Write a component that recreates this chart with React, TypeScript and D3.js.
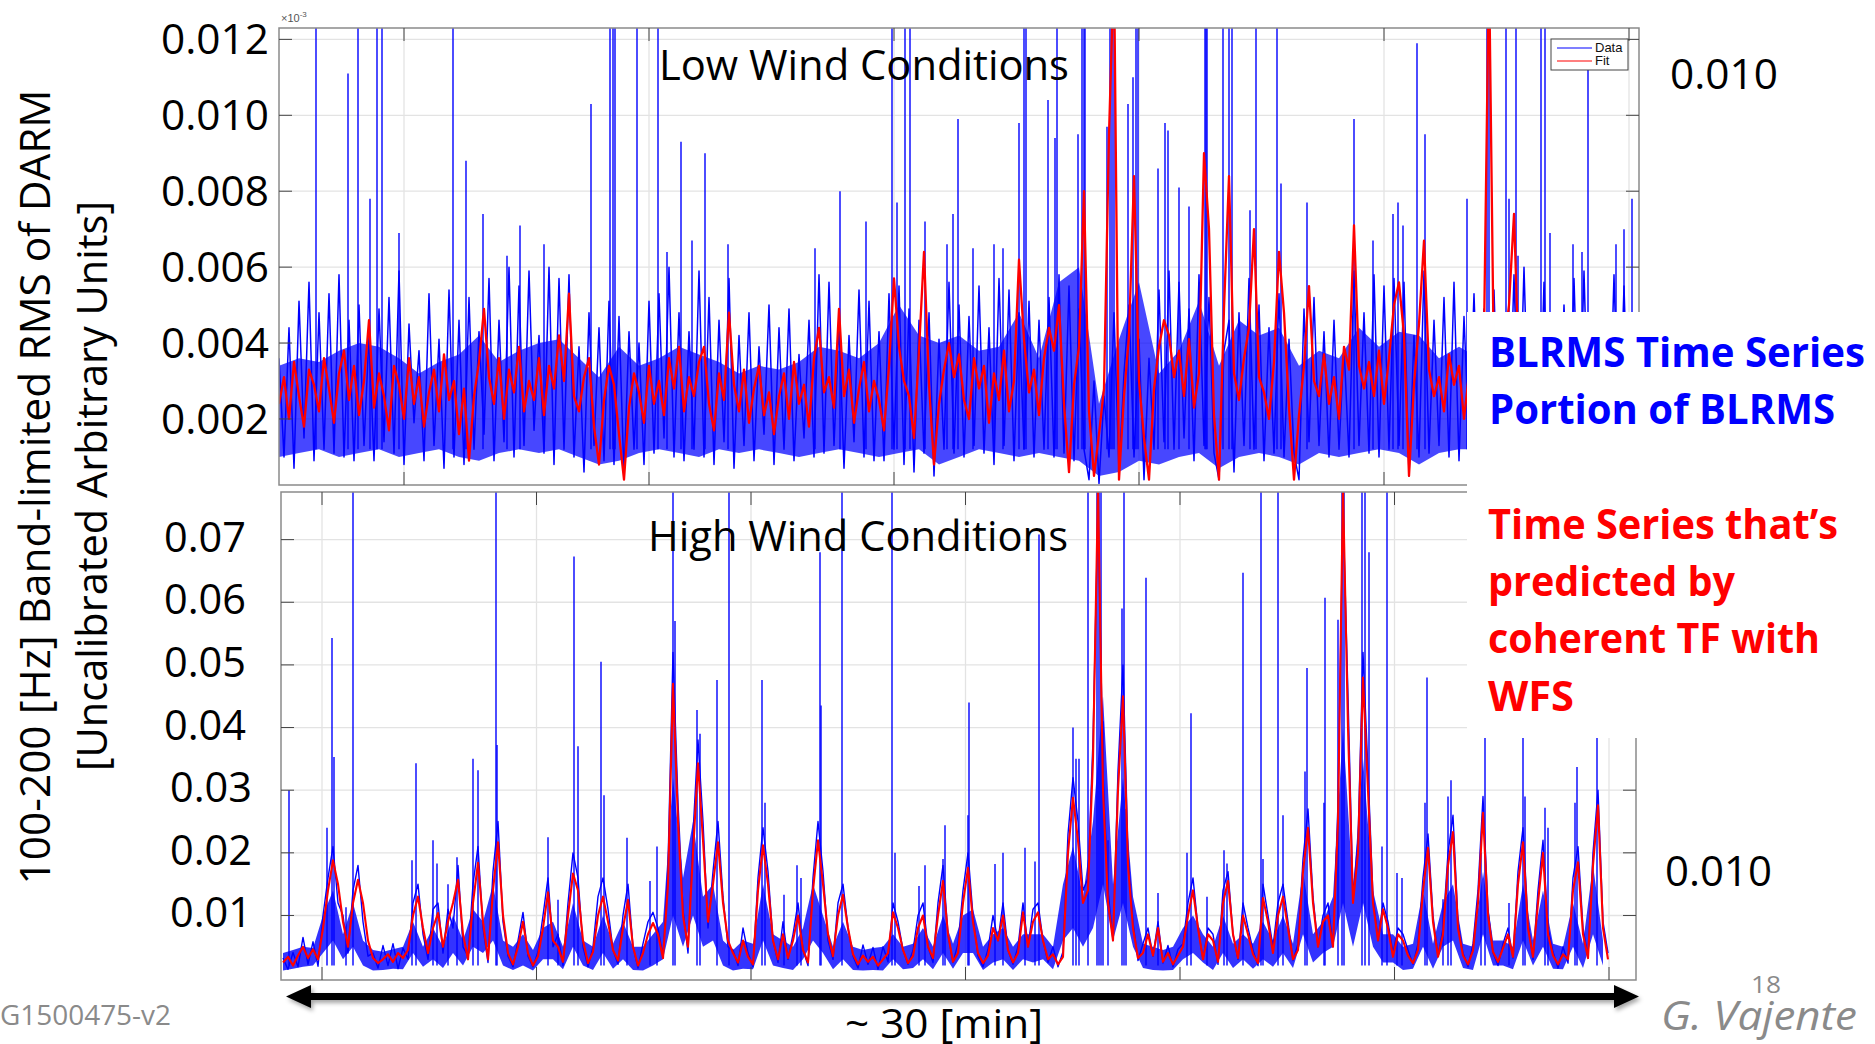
import React from 'react';
import * as d3 from 'd3';

// ---- data (values in units of 1e-3) ----
// top panel: noisy BLRMS samples (every sample index), dense core band (every 4th index), spikes
const topBlue = [
  3.6, 1.0, 4.4, 0.7, 5.1, 1.5, 5.6, 0.9, 4.8, 1.2,
  5.3, 1.1, 5.8, 1.0, 4.6, 0.9, 5.0, 1.3, 4.2, 0.9,
  4.9, 1.4, 5.2, 1.1, 5.9, 0.8, 4.5, 1.9, 3.8, 0.9,
  5.3, 1.3, 4.1, 0.7, 5.4, 1.0, 4.6, 0.8, 5.2, 1.2,
  4.3, 1.6, 5.7, 0.9, 4.6, 1.4, 6.0, 1.0, 5.5, 1.3,
  5.9, 1.7, 4.2, 1.1, 6.0, 0.8, 5.7, 1.2, 5.8, 1.0,
  3.9, 0.6, 4.8, 1.3, 4.4, 0.9, 5.1, 0.8, 4.7, 0.5,
  4.3, 1.2, 4.0, 0.8, 5.1, 1.1, 5.3, 1.5, 6.0, 1.0,
  4.8, 0.9, 4.3, 1.2, 5.9, 1.0, 5.2, 0.8, 4.6, 1.4,
  5.7, 0.7, 4.2, 1.3, 4.8, 0.9, 3.9, 1.6, 5.0, 0.8,
  4.4, 1.2, 4.9, 0.9, 3.7, 1.5, 4.6, 1.0, 5.8, 1.1,
  5.6, 1.3, 4.5, 0.7, 4.2, 1.4, 5.4, 1.0, 5.1, 0.9,
  4.3, 0.9, 5.3, 1.2, 5.5, 0.8, 4.9, 0.6, 4.6, 1.1,
  4.8, 0.5, 4.1, 1.2, 5.6, 1.1, 5.0, 1.0, 4.7, 1.3,
  5.5, 1.1, 4.4, 0.8, 5.7, 1.3, 5.4, 0.9, 4.8, 1.2,
  5.1, 1.0, 4.6, 1.2, 5.2, 1.0, 5.8, 1.1, 5.5, 0.9,
  4.9, 1.2, 0.4, 3.0, 0.3, 2.6, 1.0, 4.8, 0.6, 3.2,
  5.0, 1.0, 4.1, 0.4, 3.6, 1.2, 5.4, 1.4, 5.9, 1.2,
  5.6, 1.5, 4.9, 0.9, 5.8, 1.3, 5.2, 1.1, 0.4, 3.8,
  4.6, 0.6, 4.8, 1.3, 5.7, 1.2, 5.0, 0.9, 4.4, 1.1,
  5.3, 1.0, 4.1, 1.1, 0.4, 4.9, 1.4, 5.2, 1.3, 4.3,
  1.0, 4.6, 1.2, 3.9, 1.0, 5.9, 1.3, 4.8, 1.1, 5.8,
  1.0, 5.5, 1.2, 5.7, 1.3, 5.6, 0.5, 4.2, 1.0, 5.9,
  1.1, 4.6, 1.3, 5.2, 1.0, 5.6, 0.9, 4.7, 1.4, 5.3,
  1.2, 4.9, 1.6, 5.4, 1.0, 4.5, 1.3, 5.8, 1.1, 6.0,
  1.3, 4.4, 0.9, 5.6, 1.2, 4.8, 0.8, 5.0, 1.2, 5.7,
  1.1, 5.9, 1.0, 4.3, 1.4, 4.6, 1.0, 5.8, 1.2, 5.5,
  1.0,
];

const topBandHi = [
  3.4, 3.6, 3.5, 3.8, 4.0, 3.9, 3.6, 3.2, 3.5, 3.7,
  4.2, 3.5, 3.8, 4.0, 4.1, 3.6, 3.1, 3.9, 3.4, 3.6,
  3.9, 3.7, 3.5, 3.2, 3.4, 3.3, 3.5, 3.9, 3.8, 3.6,
  4.0, 5.0, 4.2, 4.0, 4.2, 3.8, 3.9, 4.8, 3.6, 5.6,
  6.0, 2.4, 4.1, 5.6, 3.2, 3.8, 5.1, 3.4, 4.6, 4.2,
  4.4, 3.4, 3.8, 3.6, 4.4, 3.9, 4.3, 4.2, 3.6, 3.9,
  3.6, 3.8, 3.7, 3.6, 3.9, 3.7, 3.6, 3.8, 3.6,
];
const topBandLo = [
  1.0, 1.1, 1.2, 1.0, 1.1, 1.2, 1.0, 1.1, 1.2, 1.0,
  0.9, 1.1, 1.2, 1.1, 1.2, 1.0, 0.8, 0.9, 1.1, 1.2,
  1.1, 1.0, 1.2, 1.1, 1.2, 1.1, 1.0, 1.1, 1.2, 1.1,
  1.0, 1.1, 1.2, 0.8, 1.0, 1.2, 1.1, 1.0, 1.1, 1.0,
  0.9, 0.5, 0.6, 0.9, 0.8, 1.0, 1.1, 0.7, 1.0, 1.1,
  1.0, 0.8, 1.1, 1.0, 1.1, 1.2, 1.1, 0.8, 1.1, 1.2,
  1.2, 1.1, 1.2, 1.0, 1.1, 1.2, 1.1, 1.0, 1.1,
];

const topSpikeIdx = [
  7.4, 13.8, 15.8, 18.2, 19.6, 20.6, 24, 34.8, 37.4, 40.8,
  45.6, 48.2, 53, 62.4, 66.2, 66.8, 67.2, 71.6, 75.8, 77.6,
  80.4, 82.6, 85.2, 89.8, 107.2, 112.2, 117.4, 122.6, 123.6, 125.2,
  126.2, 129.2, 133.6, 134.8, 135.8, 138.8, 143, 144.8, 148, 149,
  149.4, 153.8, 155.2, 155.6, 159.8, 160.6, 161, 161.2, 165.6, 166.2,
  166.6, 167, 169.8, 170.8, 171.4, 171.8, 175.8, 177.2, 177.8, 180,
  182, 185.2, 185.4, 185.6, 188.8, 190, 190.6, 194.2, 195.4, 199.6,
  200.4, 205.6, 215, 218.8, 222.8, 223.8, 224.8, 227.6, 229.2, 237.6,
  241.6, 242, 245.4, 246, 247.4, 247.8, 252.4, 253.2, 254.2, 258.8,
  260.6, 261.8, 267.4, 269, 270.6,
];
const topSpikeVal = [
  14, 11.1, 14, 7.8, 14, 14, 6.9, 14, 8.8, 7.4,
  6.3, 7.1, 6.6, 10.3, 14, 14, 14, 14, 14, 6.4,
  9.3, 6.7, 9.0, 6.6, 6.5, 8.0, 7.2, 14, 7.7, 14,
  14, 7.2, 6.6, 7.4, 9.9, 6.5, 6.6, 6.5, 9.8, 14,
  14, 10.4, 9.4, 14, 9.5, 14, 14, 14, 9.7, 14,
  14, 14, 10.3, 11.0, 14, 14, 8.6, 9.8, 9.6, 8.1,
  7.6, 14, 14, 14, 14, 14, 14, 7.5, 14, 14,
  8.2, 7.7, 9.9, 6.7, 7.4, 7.7, 7.1, 11.9, 9.5, 7.8,
  14, 14, 14, 7.8, 14, 6.3, 14, 14, 6.9, 6.6,
  6.4, 12.0, 6.6, 7.0, 7.8,
];

const topRed = [
  2.4, 3.1, 2.0, 3.5, 2.6, 1.8, 3.3, 2.9, 2.2, 3.6,
  2.8, 1.9, 3.2, 3.8, 2.5, 3.4, 2.1, 3.0, 4.6, 2.3,
  3.2, 2.6, 1.7, 3.4, 2.9, 2.0, 3.6, 2.4, 3.1, 1.8,
  2.7, 3.3, 2.2, 3.7, 2.5, 3.0, 1.6, 2.8, 0.9, 2.6,
  3.5, 4.9, 3.1, 2.4, 3.6, 2.0, 3.3, 2.7, 3.9, 2.2,
  3.0, 2.5, 3.6, 2.1, 3.4, 2.8, 4.2, 3.0, 5.3, 2.6,
  2.2, 3.1, 3.6, 1.8, 0.8, 2.5, 3.4, 2.9, 1.6, 0.4,
  2.3, 3.2, 2.7, 1.9, 3.4, 2.4, 3.0, 2.1, 3.6, 2.8,
  3.9, 2.2, 3.1, 2.6, 3.5, 3.9, 2.4, 1.7, 3.2, 2.5,
  4.8, 2.9, 2.2, 3.3, 1.9, 2.8, 3.4, 2.1, 2.7, 1.6,
  2.6, 3.2, 2.0, 3.5, 2.4, 2.9, 1.8, 3.6, 4.4, 2.7,
  3.1, 2.3, 4.9, 2.6, 3.3, 1.9, 2.8, 3.5, 2.2, 3.0,
  2.5, 1.7, 3.4, 5.7, 3.9, 3.0, 2.6, 1.5, 3.8, 6.4,
  2.9, 0.8, 2.4, 3.3, 4.0, 3.1, 3.7, 2.5, 2.0, 3.6,
  2.8, 3.4, 1.9, 3.2, 2.5, 3.8, 2.2, 3.0, 6.2, 4.1,
  2.7, 3.3, 2.1, 3.6, 4.4, 3.8, 5.0, 2.4, 0.6, 2.9,
  3.9, 8.0, 2.2, 0.5, 1.6, 2.8, 9.5, 14, 0.4, 2.6,
  4.2, 8.4, 3.0, 1.5, 0.4, 2.8, 3.9, 4.6, 4.2, 3.1,
  3.8, 2.6, 4.1, 2.3, 3.2, 9.0, 7.0, 2.1, 0.4, 4.9,
  8.4, 3.2, 2.5, 3.6, 4.4, 7.0, 3.1, 2.7, 2.0, 3.5,
  6.4, 4.8, 2.3, 0.4, 2.1, 3.4, 5.5, 3.0, 2.6, 3.7,
  2.4, 3.1, 2.0, 3.9, 3.3, 7.1, 3.4, 2.8, 3.5, 2.6,
  3.8, 2.4, 3.6, 5.0, 5.6, 4.2, 0.5, 2.9, 4.5, 6.7,
  3.3, 2.6, 3.1, 2.2, 3.7, 2.9, 3.4, 2.0, 3.2, 2.7,
  3.0, 4.2, 14, 3.1, 2.8, 3.9, 5.0, 7.4, 3.2, 2.5,
  3.1, 2.3, 3.5, 4.0, 3.3, 2.4, 3.0, 2.6, 3.2, 3.7,
  2.5, 3.3, 3.9, 2.8, 3.1, 2.3, 3.4, 2.9, 2.6, 3.1,
  2.8,
];

// bottom panel
const botBlue = [
  3.2, 1.4, 4.1, 1.8, 6.5, 2.2, 5.8, 1.9, 10, 16,
  21, 12, 10, 4.0, 14, 18, 9, 3.5, 4.0, 1.6,
  5.2, 2.0, 5.5, 1.5, 4.8, 3.0, 12, 15, 7, 3.0,
  11, 12, 4, 11, 8, 18, 5, 3.5, 15, 21,
  8, 2.5, 17, 25, 9, 3.5, 1.8, 6, 10.5, 3.5,
  1.8, 4.2, 10, 16, 5, 7, 2.0, 12, 20, 16,
  5, 1.8, 5.0, 13, 16, 11, 4.5, 2.2, 10, 15,
  5, 1.6, 5.5, 9, 10.5, 8, 3.5, 18, 52, 28,
  11, 4, 23, 38, 25, 8, 17, 25, 13, 5,
  4.5, 2.0, 8, 4.0, 1.8, 16, 24, 17, 6, 2.5,
  9, 3.0, 7, 12, 4.5, 2.0, 16, 25, 17, 6,
  3.0, 12, 15, 8, 3.5, 1.6, 5.3, 2.2, 4.9, 1.4,
  5.0, 2.6, 12, 9, 4.5, 2.2, 4.4, 10, 12, 5,
  2.5, 12, 18, 7, 2.5, 5.5, 14, 20, 10, 3.5,
  1.8, 4.6, 10, 6, 12, 4.5, 2.2, 5.0, 12, 5,
  11, 12, 6, 2.5, 5.0, 1.8, 4.2, 23, 32, 25,
  14, 16, 38, 75, 33, 14, 6, 33, 50, 20,
  9, 2.8, 5.5, 8, 3.5, 9, 2.4, 5.2, 1.8, 4.6,
  5.5, 12, 16, 8, 3.0, 8, 7, 2.2, 14, 17,
  7, 3.0, 12, 8, 4.5, 2.0, 15, 10, 5.0, 12,
  15, 9, 2.8, 5.5, 19, 27, 13, 5, 10, 12,
  5, 28, 75, 45, 13, 22, 52, 33, 13, 6,
  12, 9, 4.0, 8, 7, 4.5, 2.2, 5.5, 16, 23,
  10, 3.5, 8, 20, 26, 9, 4.0, 1.8, 5.5, 14,
  29, 11, 4.0, 2.0, 5.5, 8, 3.2, 17, 24, 9,
  3.0, 14, 22, 8, 4.2, 1.6, 5.0, 2.4, 16, 21,
  8, 3.5, 20, 30, 9, 4,
];

const botBandHi = [
  4.0, 4.5, 5.0, 4.8, 10, 14, 7, 12, 6, 4.5,
  4.2, 4.6, 5.0, 9, 5, 8, 5, 10, 6, 11,
  9, 15, 6, 5.0, 7, 4.5, 8, 9, 5.0, 12,
  6, 5.0, 10, 5.5, 9, 5.0, 5.0, 7, 9, 32,
  16, 25, 13, 15, 6, 4.5, 6, 5.5, 15, 7,
  6, 5.0, 8, 15, 10, 5.0, 9, 5.0, 4.5, 4.8,
  5.0, 7, 5.0, 5.5, 8, 5.0, 10, 5.5, 10, 11,
  5.0, 7, 8, 5.0, 7, 7, 7, 5.0, 15, 21,
  13, 25, 45, 15, 32, 13, 5.5, 5.0, 4.5, 5.0,
  8, 10, 7, 5.0, 10, 5.5, 7, 5.5, 9, 6,
  10, 5.5, 17, 7, 9, 13, 40, 14, 35, 14,
  7, 7, 5.0, 5.5, 14, 5.5, 12, 15, 5.5, 5.0,
  17, 6, 6, 5.0, 15, 6, 14, 5.5, 5.0, 12,
  5.5, 18, 6,
];
const botBandLo = [
  1.2, 1.5, 1.8, 2.0, 4, 6, 3, 5, 2, 1.2,
  1.3, 1.5, 1.4, 4, 1.8, 3, 1.6, 4, 2, 5,
  4, 6, 2, 1.3, 2, 1.2, 3, 3, 1.4, 5,
  2, 1.3, 4, 1.5, 3, 1.3, 1.2, 2, 3, 10,
  5, 10, 5, 6, 2, 1.2, 1.5, 1.4, 6, 2,
  1.6, 1.3, 3, 6, 4, 1.4, 3, 1.3, 1.2, 1.3,
  1.2, 3, 1.4, 1.6, 3, 1.4, 4, 1.5, 4, 4,
  1.3, 2.5, 3, 1.3, 3, 2.5, 3, 1.4, 6, 8,
  5, 8, 15, 6, 12, 5, 1.6, 1.3, 1.2, 1.3,
  3, 4, 2.5, 1.3, 4, 1.6, 3, 1.5, 3, 1.8,
  4, 1.6, 7, 2.5, 4, 5, 12, 5, 12, 5,
  2.5, 2.5, 1.3, 1.5, 5, 1.5, 5, 6, 1.6, 1.3,
  7, 2, 2, 1.4, 6, 2, 5, 1.5, 1.4, 5,
  1.6, 7, 2,
];

const botSpikeIdx = [
  1.2, 8.8, 9.8, 10.2, 12.6, 14, 25.8, 26.6, 30, 30.8,
  33, 34.8, 38, 39, 42.6, 42.8, 53, 55, 58.2, 59,
  63.6, 64.2, 68.8, 73.4, 74.8, 78, 78.4, 82.8, 83.4, 86.8,
  89.2, 95.8, 96.4, 100.2, 102.8, 103.6, 107.4, 107.6, 111.8, 121.8,
  122.4, 127.2, 128.4, 132, 132.4, 137, 137.2, 142.4, 144, 148.4,
  150.4, 151.2, 158, 158.6, 159.2, 161, 162.8, 163.2, 163.6, 164,
  165, 167.8, 168.2, 168.6, 172.6, 175, 180.8, 181.6, 184.8, 188.2,
  188.8, 192, 195.6, 196, 199, 200, 204.4, 204.8, 208.2, 208.4,
  211, 211.8, 212.2, 215.8, 216.4, 217.2, 219.8, 220.8, 222.8, 223.8,
  228.4, 228.8, 232, 233, 233.6, 239.6, 240.4, 245.2, 248, 248.4,
  252.4, 253, 258.4, 258.8, 262.8,
];
const botSpikeVal = [
  30, 24, 54.3, 35.3, 11.3, 80, 18.8, 34.3, 22, 18.3,
  15, 19.3, 35, 33.2, 80, 37.2, 22.5, 12.5, 67.3, 37,
  50.5, 29.2, 22.4, 15.5, 21, 80, 57, 42.8, 39, 47.6,
  80, 47.6, 28, 13.3, 18, 16, 68, 43.5, 80, 80,
  20, 14.7, 18, 19, 24.4, 26, 44, 18.2, 20, 20.8,
  18.6, 70.8, 40, 35, 35, 80, 80, 80, 80, 41,
  22, 59, 80, 27, 63.9, 13.6, 20, 42.3, 13, 20.4,
  18.3, 64.7, 80, 19, 80, 26, 33, 49.5, 28, 60.7,
  57.2, 80, 80, 80, 80, 68, 21, 80, 16.8, 16,
  28, 48, 12.6, 29, 31.6, 20, 45, 12, 45, 29,
  27.2, 24, 28, 33.7, 45,
];

const botRed = [
  2.5, 3.4, 2.0, 3.6, 5.0, 3.2, 4.6, 3.0, 8, 14,
  18.8, 15, 9, 5, 12, 15.7, 12, 6, 3.2, 2.4,
  3.0, 3.8, 2.6, 4.0, 3.2, 4.5, 10, 13, 8, 4.0,
  8, 10.4, 5, 9, 12, 15.7, 7, 3, 12, 18.4,
  9, 3, 14, 21.7, 10, 4, 2.2, 5, 9, 4,
  2.0, 3.5, 8, 13.7, 6, 5, 2.6, 10, 16.7, 14,
  6, 2.4, 4.2, 10, 13, 9, 4.5, 2.8, 8, 12.5,
  5, 2.0, 4.0, 7, 8.8, 7, 3.2, 15, 47, 25,
  10, 5, 20, 34.3, 22, 9, 15, 21.7, 12, 6,
  4, 2.5, 6, 3.4, 2.2, 14, 21.2, 15, 6, 3.0,
  7, 3.2, 6, 10, 4.5, 2.5, 14, 22, 15, 7,
  3.5, 10, 13.3, 8, 3.8, 2.2, 3.6, 2.6, 3.4, 2.0,
  3.0, 4.0, 10.5, 8, 4.5, 2.4, 3.5, 8, 10, 5,
  3.2, 10, 15.5, 7, 2.6, 4.0, 12, 17.6, 9, 4,
  2.4, 3.6, 8, 6, 10, 4.5, 2.5, 4.0, 10.5, 5,
  9, 10.5, 6, 3.0, 3.8, 2.2, 3.4, 20, 28.8, 22,
  12, 14, 35, 78, 30, 12, 6, 30, 45, 18,
  8, 3.2, 4.0, 7, 3.6, 8, 2.6, 4.0, 2.2, 3.6,
  5, 10, 14, 8, 3.0, 7, 6, 2.6, 12, 15.5,
  7, 3.2, 10, 7, 3.8, 2.4, 12.8, 9, 4.0, 10,
  13, 8, 3.0, 4.5, 17, 24, 12, 5, 9, 10,
  5, 25, 78, 40, 12, 20, 48, 30, 12, 6,
  11, 8, 3.4, 7, 6, 3.6, 2.4, 4.5, 14, 20.8,
  9, 3.4, 7, 18, 23.3, 8, 3.6, 2.2, 4.4, 12,
  26.4, 10, 4.2, 2.6, 4.8, 7, 3.4, 15, 21.7, 8,
  3.4, 12, 20, 7, 3.6, 2.2, 3.8, 3.0, 14, 18.5,
  7, 3.2, 18, 27.6, 8, 3,
];

const topYTicks = [2, 4, 6, 8, 10, 12];
const topYLabels = ['0.002', '0.004', '0.006', '0.008', '0.010', '0.012'];
const botYTicks = [10, 20, 30, 40, 50, 60, 70];
const botYLabels = ['0.01', '0.02', '0.03', '0.04', '0.05', '0.06', '0.07'];
const topXGrid = [25, 74, 123, 172, 221, 270];
const botXGrid = [7.8, 50.7, 93.6, 136.5, 179.4, 222.3, 265.2];
const threshold = 10;
const legendItems = ['Data', 'Fit'];

const SLIDE = "'Open Sans', 'Noto Sans', sans-serif";
const MAT = "'Liberation Sans', Arial, sans-serif";

export default function App() {
  const xTop = d3.scaleLinear().domain([0, 272]).range([279, 1639]);
  const yTop = d3.scaleLinear().domain([0.26, 12.3]).range([485, 28]);
  const xBot = d3.scaleLinear().domain([-0.4, 270.6]).range([281, 1636]);
  const yBot = d3.scaleLinear().domain([-0.3, 77.6]).range([980, 492]);

  const lineTop = d3.line<number>().x((_, i) => xTop(i)).y((d) => yTop(d));
  const lineBot = d3.line<number>().x((_, i) => xBot(i)).y((d) => yBot(d));
  const bandTop = d3.area<number>().x((_, k) => xTop(k * 4)).y0((_, k) => yTop(topBandLo[k])).y1((d) => yTop(d));
  const bandBot = d3.area<number>().x((_, k) => xBot(k * 2)).y0((_, k) => yBot(botBandLo[k])).y1((d) => yBot(d));

  const tx0 = 279, tx1 = 1639, ty0 = 28, ty1 = 485;
  const bx0 = 281, bx1 = 1636, by0 = 492, by1 = 980;
  const gridC = '#e3e3e3';
  const boxC = '#8a8a8a';
  const tickC = '#444';
  const BLUE = '#0000ff';
  const RED = '#ff0000';

  return (
    <svg width={1875} height={1044} style={{ position: 'absolute', left: 0, top: 0, background: '#fff' }}>
      <defs>
        <clipPath id="clipTop"><rect x={tx0} y={ty0} width={tx1 - tx0} height={ty1 - ty0} /></clipPath>
        <clipPath id="clipBot"><rect x={bx0} y={by0} width={bx1 - bx0} height={by1 - by0} /></clipPath>
        <filter id="shadow" x="-5%" y="-50%" width="110%" height="300%">
          <feDropShadow dx="2" dy="3" stdDeviation="2" floodColor="#000" floodOpacity="0.35" />
        </filter>
      </defs>
      <rect x={0} y={0} width={1875} height={1044} fill="#fff" />

      {/* ---------- top panel ---------- */}
      <g>
        {topYTicks.map((v) => (
          <line key={'tg' + v} x1={tx0} x2={tx1} y1={yTop(v)} y2={yTop(v)} stroke={gridC} strokeWidth={1.3} />
        ))}
        {topXGrid.map((v) => (
          <line key={'txg' + v} x1={xTop(v)} x2={xTop(v)} y1={ty0} y2={ty1} stroke={gridC} strokeWidth={1.3} />
        ))}
        <g clipPath="url(#clipTop)">
          <path d={bandTop(topBandHi) || ''} fill={BLUE} fillOpacity={0.72} stroke="none" />
          <path d={lineTop(topBlue) || ''} fill="none" stroke={BLUE} strokeWidth={1.5} strokeLinejoin="round" />
          {topSpikeIdx.map((s, i) => (
            <line key={'ts' + i} x1={xTop(s)} x2={xTop(s)} y1={yTop(1.2)} y2={yTop(topSpikeVal[i])} stroke={BLUE} strokeWidth={1.4} />
          ))}
          <path d={lineTop(topRed) || ''} fill="none" stroke={RED} strokeWidth={2.3} strokeLinejoin="round" />
        </g>
        <rect x={tx0} y={ty0} width={tx1 - tx0} height={ty1 - ty0} fill="none" stroke={boxC} strokeWidth={1.5} />
        {topYTicks.map((v) => (
          <g key={'tt' + v}>
            <line x1={tx0} x2={tx0 + 13} y1={yTop(v)} y2={yTop(v)} stroke={tickC} strokeWidth={1} />
            <line x1={tx1 - 13} x2={tx1} y1={yTop(v)} y2={yTop(v)} stroke={tickC} strokeWidth={1} />
          </g>
        ))}
        {topXGrid.map((v) => (
          <g key={'ttx' + v}>
            <line x1={xTop(v)} x2={xTop(v)} y1={ty0} y2={ty0 + 13} stroke={tickC} strokeWidth={1} />
            <line x1={xTop(v)} x2={xTop(v)} y1={ty1 - 13} y2={ty1} stroke={tickC} strokeWidth={1} />
          </g>
        ))}
        <text x={281} y={22} fontFamily={MAT} fontSize={11} fill="#555">
          ×10<tspan dy={-5} fontSize={8}>-3</tspan>
        </text>
        {/* legend */}
        <rect x={1551} y={39} width={77} height={31} fill="#fff" stroke="#444" strokeWidth={1} />
        {legendItems.map((t, i) => (
          <g key={t}>
            <line x1={1557} x2={1592} y1={48 + i * 13} y2={48 + i * 13} stroke={i === 0 ? BLUE : RED} strokeWidth={1.2} />
            <text x={1595} y={52 + i * 13} fontFamily={MAT} fontSize={13} fill="#111">{t}</text>
          </g>
        ))}
      </g>

      {/* ---------- bottom panel ---------- */}
      <g>
        {botYTicks.map((v) => (
          <line key={'bg' + v} x1={bx0} x2={bx1} y1={yBot(v)} y2={yBot(v)} stroke={gridC} strokeWidth={1.3} />
        ))}
        {botXGrid.map((v) => (
          <line key={'bxg' + v} x1={xBot(v)} x2={xBot(v)} y1={by0} y2={by1} stroke={gridC} strokeWidth={1.3} />
        ))}
        <g clipPath="url(#clipBot)">
          <path d={bandBot(botBandHi) || ''} fill={BLUE} fillOpacity={0.8} stroke="none" />
          <path d={lineBot(botBlue) || ''} fill="none" stroke={BLUE} strokeWidth={1.4} strokeLinejoin="round" />
          {botSpikeIdx.map((s, i) => (
            <line key={'bs' + i} x1={xBot(s)} x2={xBot(s)} y1={yBot(2)} y2={yBot(botSpikeVal[i])} stroke={BLUE} strokeWidth={1.4} />
          ))}
          <path d={lineBot(botRed) || ''} fill="none" stroke={RED} strokeWidth={2.1} strokeLinejoin="round" />
        </g>
        <rect x={bx0} y={by0} width={bx1 - bx0} height={by1 - by0} fill="none" stroke={boxC} strokeWidth={1.5} />
        {botYTicks.map((v) => (
          <g key={'bt' + v}>
            <line x1={bx0} x2={bx0 + 13} y1={yBot(v)} y2={yBot(v)} stroke={tickC} strokeWidth={1} />
            <line x1={bx1 - 13} x2={bx1} y1={yBot(v)} y2={yBot(v)} stroke={tickC} strokeWidth={1} />
          </g>
        ))}
        {botXGrid.map((v) => (
          <g key={'btx' + v}>
            <line x1={xBot(v)} x2={xBot(v)} y1={by0} y2={by0 + 13} stroke={tickC} strokeWidth={1} />
            <line x1={xBot(v)} x2={xBot(v)} y1={by1 - 13} y2={by1} stroke={tickC} strokeWidth={1} />
          </g>
        ))}
      </g>

      {/* white text box covering right part */}
      <rect x={1467} y={312} width={408} height={426} fill="#fff" />

      {/* threshold annotation lines */}
      <line x1={310} x2={1741} y1={yTop(threshold)} y2={yTop(threshold)} stroke="#4f81bd" strokeWidth={5} filter="url(#shadow)" />
      <line x1={317} x2={1746} y1={yBot(threshold)} y2={yBot(threshold)} stroke="#4f81bd" strokeWidth={5} filter="url(#shadow)" />

      {/* big tick labels */}
      {topYTicks.map((v, i) => (
        <text key={'tl' + v} x={269} y={yTop(v) + 15} textAnchor="end" fontFamily={SLIDE} fontSize={42} fill="#000" textLength={108} lengthAdjust="spacingAndGlyphs">{topYLabels[i]}</text>
      ))}
      {botYTicks.map((v, i) => (
        <text key={'bl' + v} x={v <= 30 ? 252 : 246} y={yBot(v) + 12} textAnchor="end" fontFamily={SLIDE} fontSize={42} fill="#000" textLength={82} lengthAdjust="spacingAndGlyphs">{botYLabels[i]}</text>
      ))}

      {/* axis title */}
      <text transform="translate(50,487) rotate(-90)" textAnchor="middle" fontFamily={SLIDE} fontSize={42} fill="#000" textLength={795} lengthAdjust="spacingAndGlyphs">100-200 [Hz] Band-limited RMS of DARM</text>
      <text transform="translate(107,486) rotate(-90)" textAnchor="middle" fontFamily={SLIDE} fontSize={42} fill="#000" textLength={570} lengthAdjust="spacingAndGlyphs">[Uncalibrated Arbitrary Units]</text>

      {/* panel titles */}
      <text x={659} y={80} fontFamily={SLIDE} fontSize={42} fill="#000" textLength={410} lengthAdjust="spacingAndGlyphs">Low Wind Conditions</text>
      <text x={648} y={551} fontFamily={SLIDE} fontSize={42} fill="#000" textLength={420} lengthAdjust="spacingAndGlyphs">High Wind Conditions</text>

      {/* threshold labels */}
      <text x={1670} y={89} fontFamily={SLIDE} fontSize={42} fill="#000" textLength={108} lengthAdjust="spacingAndGlyphs">0.010</text>
      <text x={1665} y={886} fontFamily={SLIDE} fontSize={42} fill="#000" textLength={107} lengthAdjust="spacingAndGlyphs">0.010</text>

      {/* blue/red explanatory text */}
      <text x={1489} y={367} fontFamily={SLIDE} fontSize={42} fontWeight={700} fill={BLUE} textLength={376} lengthAdjust="spacingAndGlyphs">BLRMS Time Series</text>
      <text x={1489} y={424} fontFamily={SLIDE} fontSize={42} fontWeight={700} fill={BLUE} textLength={346} lengthAdjust="spacingAndGlyphs">Portion of BLRMS</text>
      <text x={1488} y={539} fontFamily={SLIDE} fontSize={42} fontWeight={700} fill={RED} textLength={350} lengthAdjust="spacingAndGlyphs">Time Series that’s</text>
      <text x={1488} y={596} fontFamily={SLIDE} fontSize={42} fontWeight={700} fill={RED} textLength={247} lengthAdjust="spacingAndGlyphs">predicted by</text>
      <text x={1488} y={653} fontFamily={SLIDE} fontSize={42} fontWeight={700} fill={RED} textLength={332} lengthAdjust="spacingAndGlyphs">coherent TF with</text>
      <text x={1488} y={711} fontFamily={SLIDE} fontSize={42} fontWeight={700} fill={RED} textLength={86} lengthAdjust="spacingAndGlyphs">WFS</text>

      {/* double arrow */}
      <path d="M286,996.5 L311,985 L311,993 L1614,993 L1614,985 L1639,996.5 L1614,1008 L1614,1000 L311,1000 L311,1008 Z" fill="#000" filter="url(#shadow)" />
      <text x={845} y={1038} fontFamily={SLIDE} fontSize={40} fill="#000" textLength={198} lengthAdjust="spacingAndGlyphs">~ 30 [min]</text>

      {/* footer */}
      <text x={0} y={1025} fontFamily={SLIDE} fontSize={28} fill="#8a8a8a" textLength={171} lengthAdjust="spacingAndGlyphs">G1500475-v2</text>
      <text x={1751} y={993} fontFamily={SLIDE} fontSize={24} fill="#8a8a8a" textLength={30} lengthAdjust="spacingAndGlyphs">18</text>
      <text x={1661} y={1030} fontFamily={SLIDE} fontSize={40} fontStyle="italic" fill="#8a8a8a" textLength={196} lengthAdjust="spacingAndGlyphs">G. Vajente</text>
    </svg>
  );
}
